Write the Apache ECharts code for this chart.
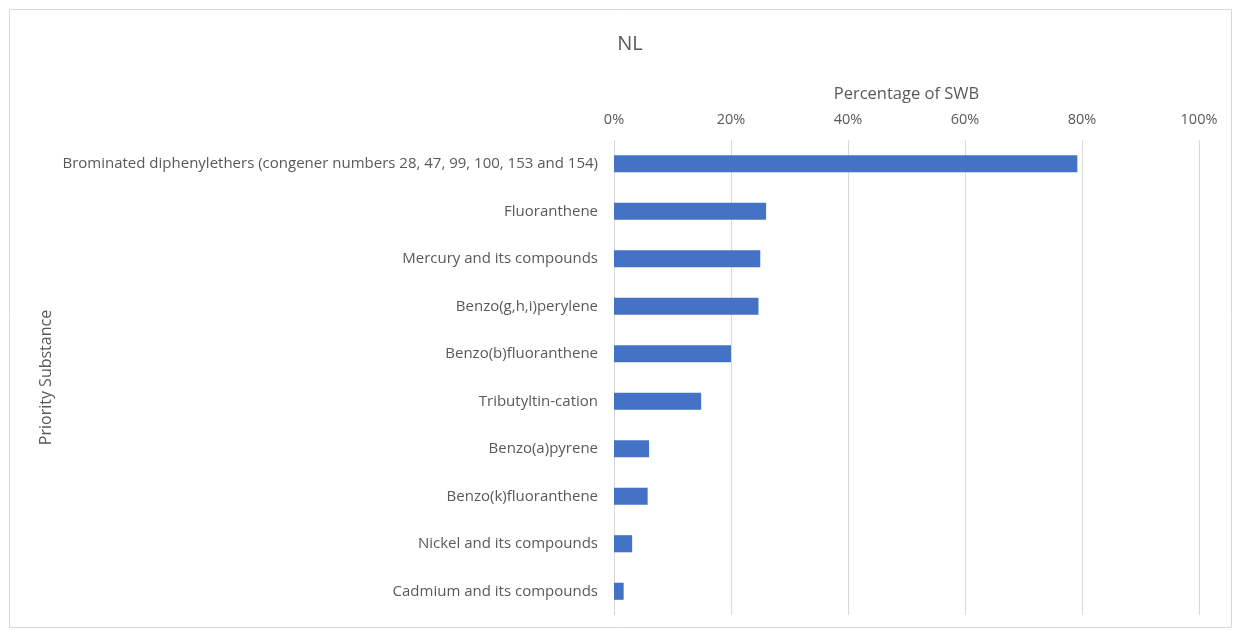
<!DOCTYPE html>
<html><head><meta charset="utf-8">
<script src="https://cdn.jsdelivr.net/npm/echarts@6/dist/echarts.min.js"></script>
<style>html,body{margin:0;padding:0;background:#fff}#c{width:1236px;height:630px}</style>
</head><body><div id="c"></div>
<script>
const categories = [
  "Brominated diphenylethers (congener numbers 28, 47, 99, 100, 153 and 154)",
  "Fluoranthene",
  "Mercury and its compounds",
  "Benzo(g,h,i)perylene",
  "Benzo(b)fluoranthene",
  "Tributyltin-cation",
  "Benzo(a)pyrene",
  "Benzo(k)fluoranthene",
  "Nickel and its compounds",
  "Cadmium and its compounds"
];
const values = [0.792, 0.26, 0.25, 0.247, 0.20, 0.149, 0.06, 0.0575, 0.031, 0.0165];
const xTicks = [0, 0.2, 0.4, 0.6, 0.8, 1.0];

const font = "Open Sans";
const chart = echarts.init(document.getElementById('c'));
chart.setOption({
  animation: false,
  textStyle: {fontFamily: font},
  title: {text: "NL", left: 625, top: 29, textAlign: 'center',
    textStyle: {fontFamily: font, fontSize: 20, fontWeight: 'normal', color: '#595959'}},
  graphic: [{type: 'rect', shape: {x: 9.5, y: 9.5, width: 1222, height: 618},
    style: {fill: null, stroke: '#d9d9d9', lineWidth: 1}, silent: true}],
  grid: {left: 614, right: 37, top: 140, bottom: 15},
  xAxis: {
    type: 'value', position: 'top', min: 0, max: 1, interval: 0.2,
    name: "Percentage of SWB", nameLocation: 'middle', nameGap: 37,
    nameTextStyle: {fontFamily: font, fontSize: 16.5, color: '#595959'},
    axisLine: {show: false}, axisTick: {show: false},
    axisLabel: {fontFamily: font, fontSize: 14.5, color: '#595959', margin: 13,
      formatter: v => Math.round(v * 100) + '%'},
    splitLine: {lineStyle: {color: '#d9d9d9', width: 1}}
  },
  yAxis: {
    type: 'category', inverse: true, data: categories,
    name: "Priority Substance", nameLocation: 'middle', nameGap: 560, nameRotate: 90,
    nameTextStyle: {fontFamily: font, fontSize: 16, color: '#595959'},
    axisLine: {show: false}, axisTick: {show: false},
    axisLabel: {fontFamily: font, fontSize: 15, color: '#595959', margin: 16}
  },
  series: [{type: 'bar', data: values, barWidth: '36%',
    itemStyle: {color: '#4472c4'}}]
});
</script></body></html>
